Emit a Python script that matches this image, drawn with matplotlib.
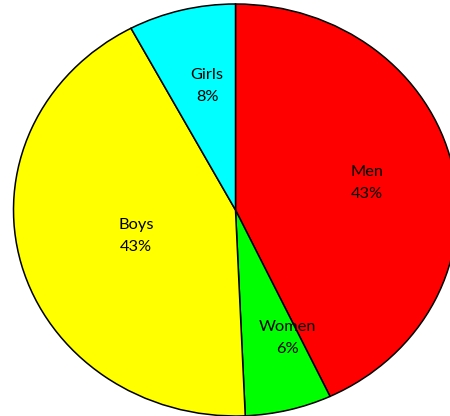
import matplotlib
matplotlib.use("Agg")
import matplotlib.pyplot as plt
import numpy as np

categories = ["Men", "Women", "Boys", "Girls"]
values = [43.0, 6.3, 42.9, 7.8]
colors = ["#FF0000", "#00FF00", "#FFFF00", "#00FFFF"]

fig = plt.figure(figsize=(4.5, 4.16), dpi=100)
ax = fig.add_axes([0, 0, 1, 1])
wedges, _ = ax.pie(values, colors=colors, startangle=90, counterclock=False,
                   wedgeprops=dict(edgecolor="black", linewidth=1.1))
ax.set_aspect("auto")
ax.set_xlim(-235.5 / 222, (450 - 235.5) / 222)
ax.set_ylim(-206 / 206, 210 / 206)
ax.axis("off")

total = sum(values)
label_pos = {"Men": (0.594, 0.131), "Women": (0.236, -0.621),
             "Boys": (-0.448, -0.126), "Girls": (-0.128, 0.602)}
for cat, v in zip(categories, values):
    x, y = label_pos[cat]
    ax.text(x, y, f"{cat}\n{v / total * 100:.0f}%", ha="center", va="center",
            fontsize=11.8, family=["Lato", "DejaVu Sans"], linespacing=1.65,
            color="black")

fig.savefig("out.png", dpi=100)
